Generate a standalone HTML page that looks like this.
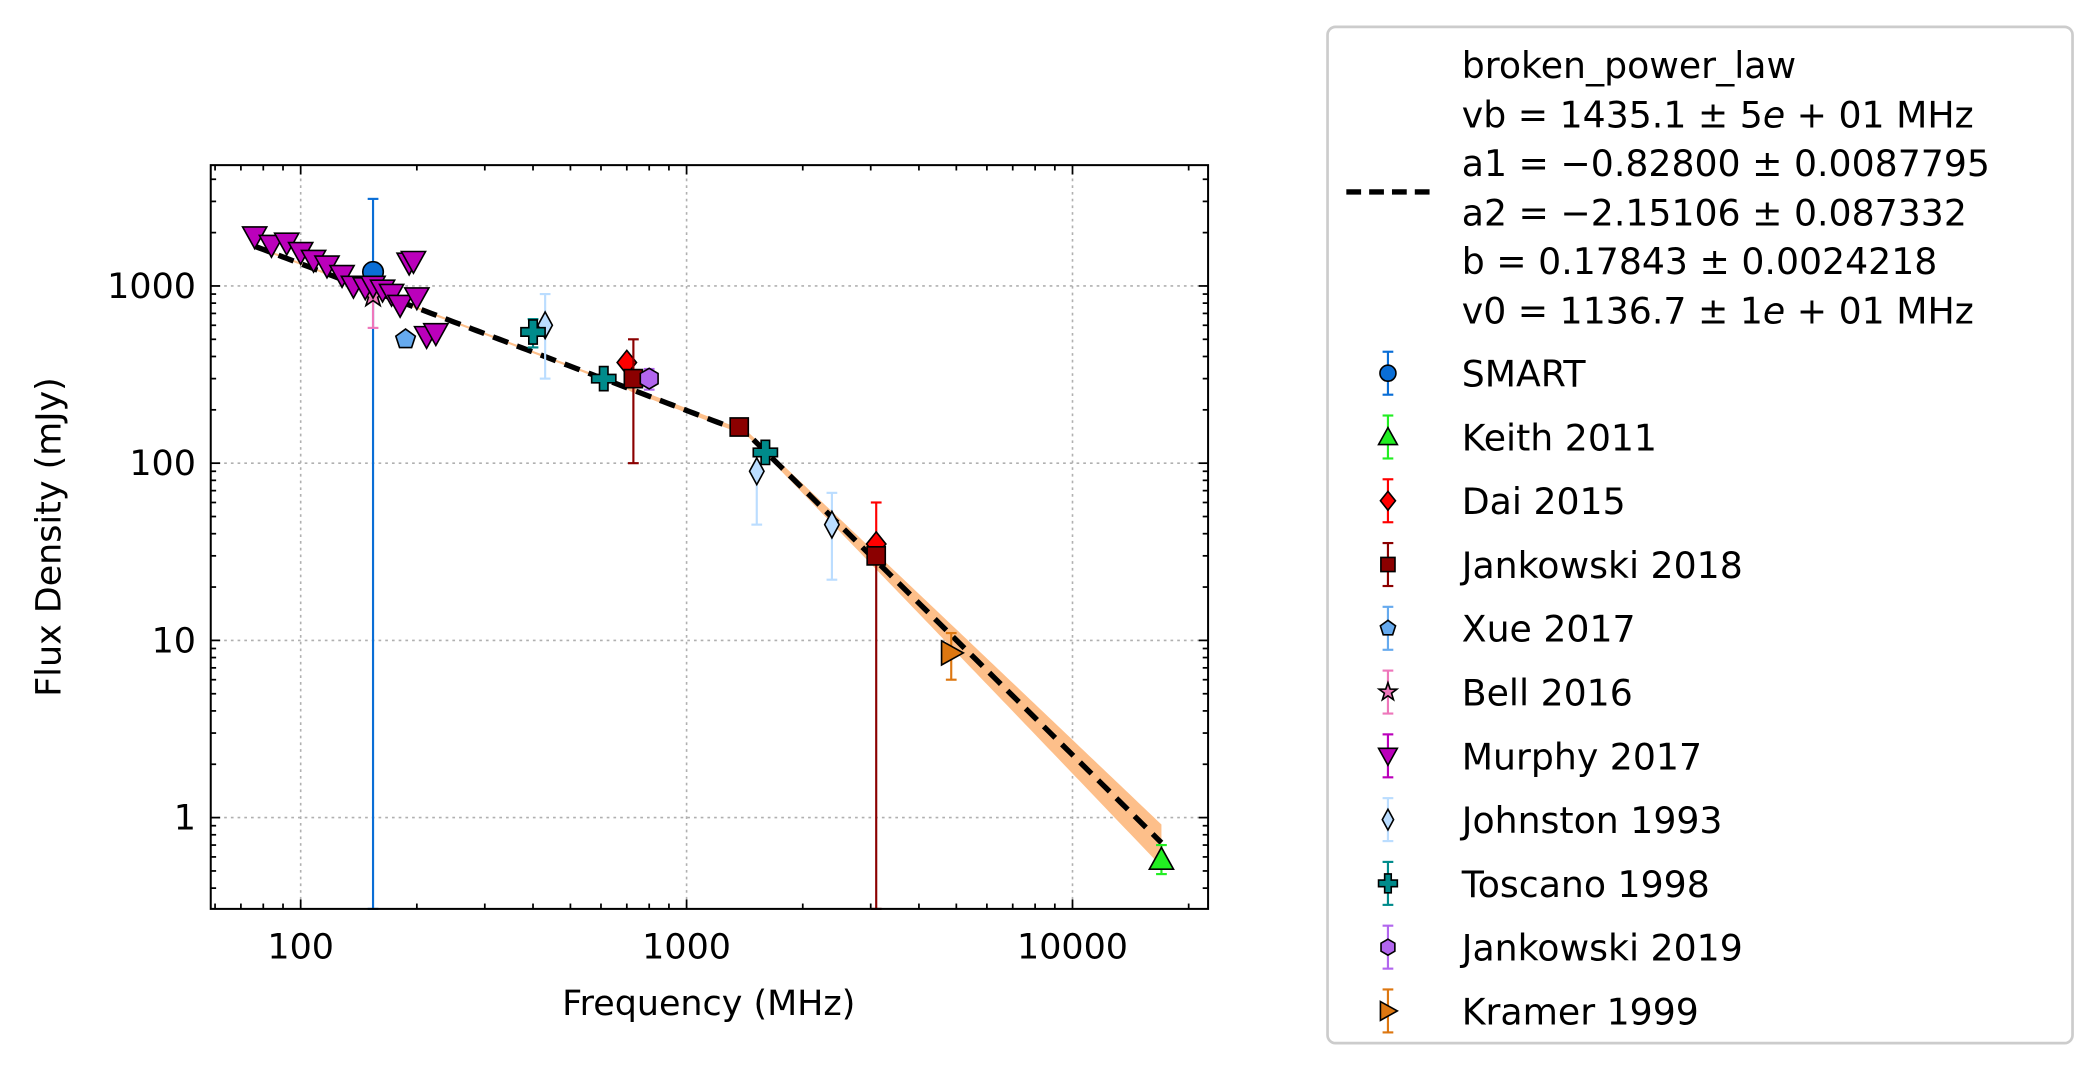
<!DOCTYPE html>
<html><head><meta charset="utf-8"><style>
html,body{margin:0;padding:0;background:#fff;}
svg{display:block;font-family:"DejaVu Sans","Liberation Sans",sans-serif;}
</style></head><body>
<svg id="chart" width="2094" height="1070" viewBox="0 0 1560 797" preserveAspectRatio="none" xmlns="http://www.w3.org/2000/svg">
<rect width="1560" height="797" fill="#fff"/>
<g id="grid"></g>
<g id="band"></g>
<g id="fit"></g>
<g id="marks"></g>
<rect x="157" y="123" width="743" height="554" fill="none" stroke="#000" stroke-width="1.5"/>
<g id="ticks"></g>
<text x="528" y="756" font-size="26" text-anchor="middle">Frequency (MHz)</text>
<text transform="translate(45,400) rotate(-90)" font-size="26" text-anchor="middle">Flux Density (mJy)</text>
<g id="legend">
<rect x="989" y="20" width="555" height="757" rx="6" fill="#fff" stroke="#ccc" stroke-width="2"/>
<line x1="1003" y1="143" x2="1065" y2="143" stroke="#000" stroke-width="4" stroke-dasharray="11,6"/>
<g font-size="27">
<text x="1089" y="58">broken_power_law</text>
<text x="1089" y="95">vb = 1435.1 ± 5<tspan font-style="italic">e</tspan> + 01 MHz</text>
<text x="1089" y="131">a1 = −0.82800 ± 0.0087795</text>
<text x="1089" y="168">a2 = −2.15106 ± 0.087332</text>
<text x="1089" y="204">b = 0.17843 ± 0.0024218</text>
<text x="1089" y="241">v0 = 1136.7 ± 1<tspan font-style="italic">e</tspan> + 01 MHz</text>
</g>
<g id="legend-entries"></g>
</g>
</svg>
<script>
const ns="http://www.w3.org/2000/svg";
// data
const seriesNames=["SMART","Keith 2011","Dai 2015","Jankowski 2018","Xue 2017","Bell 2016","Murphy 2017","Johnston 1993","Toscano 1998","Jankowski 2019","Kramer 1999"];
const seriesColors=["#0a6ed6","#22ee22","#ff0000","#8b0000","#66aaee","#ee77bb","#bb00bb","#bbddff","#008b8b","#b266ee","#dd7711"];
const seriesMarkers=["circle","tri-up","diamond","square","pentagon","star","tri-down","thin-diamond","plus","hexagon","tri-right"];
const smartFreq=[154], smartFlux=[1200], smartLo=[0.3], smartHi=[3100];
const keithFreq=[17000], keithFlux=[0.58], keithLo=[0.48], keithHi=[0.7];
const daiFreq=[700,3100], daiFlux=[370,35], daiLo=[370,35], daiHi=[370,60];
const jank18Freq=[728,1369,3100], jank18Flux=[300,160,30], jank18Lo=[100,150,0.3], jank18Hi=[500,170,30];
const xueFreq=[187], xueFlux=[500], xueLo=[500], xueHi=[500];
const bellFreq=[154], bellFlux=[880], bellLo=[580], bellHi=[880];
const murphyFreq=[76,84,92,100,108,117,128,137,147,154,163,172,181,191,196,200,212,224];
const murphyFlux=[1900,1700,1750,1550,1400,1300,1150,1000,980,1000,950,900,780,1350,1380,860,520,540];
const johnstonFreq=[430,1520,2380], johnstonFlux=[600,90,45], johnstonLo=[300,45,22], johnstonHi=[900,90,68];
const toscanoFreq=[400,610,1600], toscanoFlux=[550,300,115], toscanoLo=[450,300,115], toscanoHi=[650,300,115];
const jank19Freq=[800], jank19Flux=[300], jank19Lo=[260], jank19Hi=[340];
const kramerFreq=[4850], kramerFlux=[8.5], kramerLo=[6], kramerHi=[11];
// fit params
const fitParams=[1435.1,-0.828,-2.15106,0.17843,1136.7];
const xTickVals=[100,1000,10000], xTickLabels=["100","1000","10000"];
const yTickVals=[1,10,100,1000], yTickLabels=["1","10","100","1000"];

const X0=157,X1=900,Y0=123,Y1=677;
function x(f){return 224+287.5*Math.log10(f/100);}
function y(v){return 609-132*Math.log10(v);}
function el(tag,attrs,parent){const e=document.createElementNS(ns,tag);for(const k in attrs)e.setAttribute(k,attrs[k]);parent.appendChild(e);return e;}

const grid=document.getElementById('grid'), ticks=document.getElementById('ticks');
xTickVals.forEach((v,i)=>{
  const g=el('line',{x1:x(v),x2:x(v),y1:Y0,y2:Y1,stroke:'#b0b0b0','stroke-width':1.2,'stroke-dasharray':'2,3'},grid);
  
  
  const t=el('text',{x:x(v),y:Y1+37,'font-size':26,'text-anchor':'middle'},ticks);
  t.textContent=xTickLabels[i];
  
  
});
yTickVals.forEach((v,i)=>{
  const g=el('line',{x1:X0,x2:X1,y1:y(v),y2:y(v),stroke:'#b0b0b0','stroke-width':1.2,'stroke-dasharray':'2,3'},grid);
  
  
  const t=el('text',{x:X0-11,y:y(v)+9,'font-size':26,'text-anchor':'end'},ticks);
  t.textContent=yTickLabels[i];
  
  
});
for(let d=10;d<=10000;d*=10){for(let m=1;m<10;m++){const f=d*m;const px=x(f);if(px<X0||px>X1)continue;const L=m===1?7:4;
  el('line',{x1:px,x2:px,y1:Y1,y2:Y1-L,stroke:'#000','stroke-width':1.3},ticks);
  el('line',{x1:px,x2:px,y1:Y0,y2:Y0+L,stroke:'#000','stroke-width':1.3},ticks);}}
for(let d=0.1;d<=1000;d*=10){for(let m=1;m<10;m++){const v=d*m;const py=y(v);if(py<Y0||py>Y1)continue;const L=m===1?7:4;
  el('line',{x1:X0,x2:X0+L,y1:py,y2:py,stroke:'#000','stroke-width':1.3},ticks);
  el('line',{x1:X1,x2:X1-L,y1:py,y2:py,stroke:'#000','stroke-width':1.3},ticks);}}

function model(f){const [vb,a1,a2,b,v0]=fitParams;
  if(f<vb)return 1000*b*Math.pow(f/v0,a1);
  return 1000*b*Math.pow(vb/v0,a1)*Math.pow(f/vb,a2);}
const fitPts=[],up=[],dn=[];
for(let i=0;i<=200;i++){const f=76*Math.pow(17000/76,i/200);const v=model(f);fitPts.push(x(f)+','+y(v));
  const w=f<700?0.015:0.03+0.22*Math.max(0,Math.log10(f/1435));
  up.push(x(f)+','+y(v*(1+w)));dn.unshift(x(f)+','+y(v*(1-w)));}
const band=el('polygon',{points:up.concat(dn).join(' '),fill:'#fdbf8a'},document.getElementById('band'));


const fl=el('polyline',{points:fitPts.join(' '),fill:'none',stroke:'#000','stroke-width':4,'stroke-dasharray':'12,7'},document.getElementById('fit'));



function marker(type,cx,cy,color,parent,s){s=s||8;let e;
  const poly=(pts)=>el('polygon',{points:pts.map(p=>(cx+p[0])+','+(cy+p[1])).join(' '),fill:color,stroke:'#000','stroke-width':1.2},parent);
  if(type==='circle')e=el('circle',{cx,cy,r:s*0.85,fill:color,stroke:'#000','stroke-width':1.2},parent);
  else if(type==='tri-up')e=poly([[0,-s],[s,s*0.8],[-s,s*0.8]]);
  else if(type==='tri-down')e=poly([[-s,-s*0.8],[s,-s*0.8],[0,s]]);
  else if(type==='tri-right')e=poly([[-s*0.8,-s],[s,0],[-s*0.8,s]]);
  else if(type==='diamond')e=poly([[0,-s],[s*0.8,0],[0,s],[-s*0.8,0]]);
  else if(type==='thin-diamond')e=poly([[0,-s*1.1],[s*0.6,0],[0,s*1.1],[-s*0.6,0]]);
  else if(type==='square')e=poly([[-s*0.75,-s*0.75],[s*0.75,-s*0.75],[s*0.75,s*0.75],[-s*0.75,s*0.75]]);
  else if(type==='pentagon'){const p=[];for(let k=0;k<5;k++){const a=-Math.PI/2+k*2*Math.PI/5;p.push([s*0.85*Math.cos(a),s*0.85*Math.sin(a)]);}e=poly(p);}
  else if(type==='hexagon'){const p=[];for(let k=0;k<6;k++){const a=-Math.PI/2+k*Math.PI/3;p.push([s*0.85*Math.cos(a),s*0.85*Math.sin(a)]);}e=poly(p);}
  else if(type==='star'){const p=[];for(let k=0;k<10;k++){const a=-Math.PI/2+k*Math.PI/5;const r=k%2?s*0.4:s;p.push([r*Math.cos(a),r*Math.sin(a)]);}e=poly(p);}
  else if(type==='plus'){const a=s*0.35,b=s;e=poly([[-a,-b],[a,-b],[a,-a],[b,-a],[b,a],[a,a],[a,b],[-a,b],[-a,a],[-b,a],[-b,-a],[-a,-a]]);}
  return e;}
function errbar(cx,y1,y2,color,parent){
  el('line',{x1:cx,x2:cx,y1:y1,y2:y2,stroke:color,'stroke-width':1.6},parent);
  el('line',{x1:cx-4,x2:cx+4,y1:y1,y2:y1,stroke:color,'stroke-width':1.6},parent);
  el('line',{x1:cx-4,x2:cx+4,y1:y2,y2:y2,stroke:color,'stroke-width':1.6},parent);}

const marks=document.getElementById('marks');
const sets=[
 [0,smartFreq,smartFlux,smartLo,smartHi],
 [5,bellFreq,bellFlux,bellLo,bellHi],
 [6,murphyFreq,murphyFlux,null,null],
 [4,xueFreq,xueFlux,xueLo,xueHi],
 [7,johnstonFreq,johnstonFlux,johnstonLo,johnstonHi],
 [8,toscanoFreq,toscanoFlux,toscanoLo,toscanoHi],
 [2,daiFreq,daiFlux,daiLo,daiHi],
 [3,jank18Freq,jank18Flux,jank18Lo,jank18Hi],
 [9,jank19Freq,jank19Flux,jank19Lo,jank19Hi],
 [10,kramerFreq,kramerFlux,kramerLo,kramerHi],
 [1,keithFreq,keithFlux,keithLo,keithHi]];
sets.forEach(([si,fr,fl,lo,hi])=>{
  const g=el('g',{},marks);
  
  
  fr.forEach((f,i)=>{
    if(lo){const yl=Math.min(y(Math.max(lo[i],0.305)),Y1);errbar(x(f),y(hi[i]),yl,seriesColors[si],g);}
    const m=marker(seriesMarkers[si],x(f),y(fl[i]),seriesColors[si],g,9);
    
    
  });
});

const le=document.getElementById('legend-entries');
seriesNames.forEach((n,i)=>{
  const cy=278+47.5*i;
  const g=el('g',{},le);
  
  
  errbar(1034,cy-16,cy+16,seriesColors[i],g);
  marker(seriesMarkers[i],1034,cy,seriesColors[i],g,7);
  const t=el('text',{x:1089,y:cy+10,'font-size':27},g);
  t.textContent=n;
});
</script>
</body></html>
